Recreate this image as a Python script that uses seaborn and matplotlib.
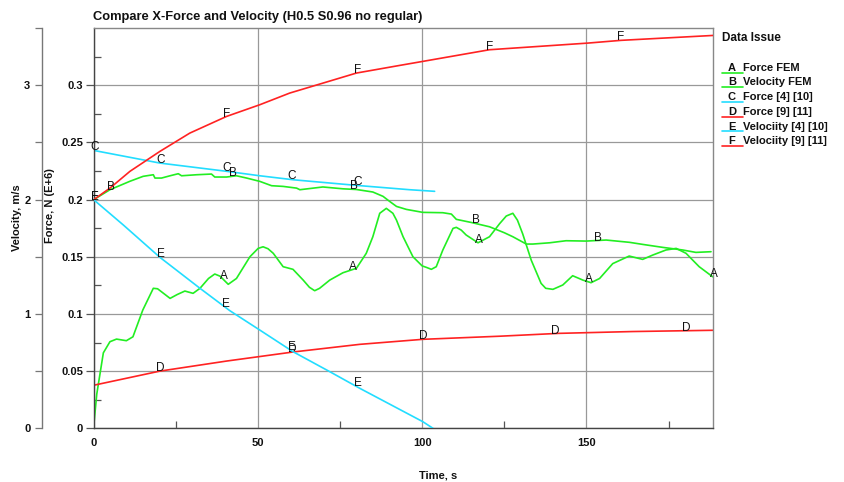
import numpy as np
import pandas as pd
import matplotlib
matplotlib.use("Agg")
import matplotlib.pyplot as plt
from matplotlib.lines import Line2D
from matplotlib.ticker import FixedLocator
import seaborn as sns

# ---- data -------------------------------------------------------------
# Force FEM (force axis, N E+6)
a_time = [0, 1, 3, 5, 7, 10, 12, 15, 18.2, 19.5, 23.3, 25.5, 27.8, 30.3, 32.4,
          35, 36.9, 38.5, 41, 43.5, 47.6, 50.1, 51.6, 53.1, 54.7, 57.7, 60.7,
          63.8, 65.7, 67.3, 68.8, 71.9, 75.9, 80, 83, 85, 87.1, 89.1, 91.1,
          92.2, 94.2, 97.2, 100, 101.3, 102.8, 104.3, 106.3, 109.4, 110.4,
          111.9, 113.4, 117, 120.5, 123.6, 125.6, 127.6, 129, 130.6, 133.2,
          136.2, 137.6, 139.8, 142.8, 145.8, 148.9, 151.4, 154, 158, 163,
          167.1, 170.2, 174.2, 177.3, 180.3, 184.3, 188.4]
a_force = [0.0, 0.030, 0.066, 0.0757, 0.078, 0.0766, 0.080, 0.1034, 0.1224,
           0.122, 0.1136, 0.117, 0.120, 0.118, 0.1224, 0.131, 0.1349, 0.133,
           0.1259, 0.131, 0.150, 0.1573, 0.1587, 0.157, 0.153, 0.1413, 0.139,
           0.1296, 0.1233, 0.1203, 0.1224, 0.1296, 0.136, 0.1399, 0.153,
           0.1675, 0.188, 0.1923, 0.188, 0.182, 0.1675, 0.150, 0.142, 0.1407,
           0.139, 0.1413, 0.1559, 0.1748, 0.1757, 0.1733, 0.169, 0.1622,
           0.1675, 0.179, 0.1856, 0.188, 0.182, 0.170, 0.147, 0.1267, 0.1224,
           0.1215, 0.1253, 0.1334, 0.1296, 0.1273, 0.131, 0.144, 0.1506,
           0.1477, 0.1515, 0.1559, 0.1573, 0.153, 0.1413, 0.1325]

# Velocity FEM (velocity axis, m/s)
b_time = [0, 5, 11.1, 15.1, 18.2, 18.7, 20.7, 23.3, 25.8, 26.8, 31.4, 35.9,
          36.9, 40.5, 43.5, 46.6, 50.6, 54.2, 57.7, 61.8, 62.8, 69.8, 75.9, 80,
          85, 88.1, 90.1, 92.2, 95.2, 100.2, 106.3, 108.9, 110.4, 114.9, 120.5,
          125, 127.6, 131.7, 133.7, 138.8, 143.8, 149.9, 156, 163.1, 167.1,
          173.2, 179.3, 183.3, 187.9]
b_velocity = [1.998, 2.086, 2.16, 2.203, 2.217, 2.188, 2.188, 2.208, 2.226,
              2.208, 2.217, 2.223, 2.197, 2.197, 2.208, 2.188, 2.159, 2.121,
              2.115, 2.10, 2.086, 2.11, 2.094, 2.088, 2.066, 2.028, 1.984, 1.94,
              1.914, 1.888, 1.885, 1.873, 1.827, 1.80, 1.762, 1.71, 1.675,
              1.611, 1.611, 1.622, 1.64, 1.637, 1.646, 1.626, 1.608, 1.582,
              1.559, 1.538, 1.544]

# Force [4] [10]
c_time = [0, 20.2, 40.5, 50.6, 60.8, 80, 96.2, 103.8]
c_force = [0.243, 0.2319, 0.2247, 0.2208, 0.2173, 0.2124, 0.2086, 0.2072]

# Force [9] [11]
d_time = [0, 20.2, 40.5, 60.7, 81, 100.2, 123.5, 141.5, 164, 188.6]
d_force = [0.0376, 0.050, 0.0588, 0.0667, 0.0734, 0.0778, 0.0805, 0.0830,
           0.0846, 0.0857]

# Velociity [4] [10]
e_time = [0, 9.1, 20.2, 32.4, 41.5, 50.6, 60.7, 71.9, 81, 100.2, 103.3]
e_velocity = [2.0, 1.777, 1.495, 1.224, 1.028, 0.859, 0.670, 0.495, 0.350,
              0.058, 0.0]

# Velociity [9] [11]
f_time = [0, 5, 11.1, 20.2, 29.3, 40.5, 50.6, 59.7, 69.8, 80, 93.2, 100.2,
          120.5, 150.4, 160.5, 188.6]
f_velocity = [1.998, 2.10, 2.247, 2.421, 2.581, 2.727, 2.829, 2.931, 3.018,
              3.106, 3.173, 3.208, 3.31, 3.368, 3.392, 3.435]

# where each series letter is stamped along its curve
a_marks = [39.4, 78.5, 117, 150.5, 188.5]
b_marks = [5, 42, 79, 116, 153]
c_marks = [0, 20, 40, 60, 80]
d_marks = [20, 60, 100, 140, 180]
e_marks = [0, 20, 40, 60, 80]
f_marks = [0, 40, 80, 120, 160]

series_letters = ["A", "B", "C", "D", "E", "F"]
series_names = ["Force FEM", "Velocity FEM", "Force [4] [10]", "Force [9] [11]",
                "Velociity [4] [10]", "Velociity [9] [11]"]

force_ticks = [0, 0.05, 0.1, 0.15, 0.2, 0.25, 0.3]
force_tick_labels = ["0", "0.05", "0.1", "0.15", "0.2", "0.25", "0.3"]
velocity_ticks = [0, 1, 2, 3]
time_ticks = [0, 50, 100, 150]

# ---- style ------------------------------------------------------------
sns.set_theme(style="white")
plt.rcParams["font.family"] = ["Liberation Sans", "DejaVu Sans"]

GREEN = "#22ee22"
CYAN = "#22ddff"
RED = "#ff2222"
colors = [GREEN, GREEN, CYAN, RED, CYAN, RED]

W, H = 844, 482
fig = plt.figure(figsize=(W / 100, H / 100), dpi=100)
fig.patch.set_facecolor("white")

left_px, right_px, top_px, bottom_px = 93.5, 713.3, 28.0, 428.3
ax = fig.add_axes([left_px / W, 1 - bottom_px / H,
                   (right_px - left_px) / W, (bottom_px - top_px) / H])
ax.set_facecolor("white")
axv = ax.twinx()

LW = 1.2
line_kw = dict(lw=LW, legend=False, solid_joinstyle="round",
               solid_capstyle="round")
tick_font = dict(fontsize=8, fontweight="bold")

# force-axis curves
sns.lineplot(x=a_time, y=a_force, ax=ax, color=GREEN, **line_kw)
sns.lineplot(x=c_time, y=c_force, ax=ax, color=CYAN, **line_kw)
sns.lineplot(x=d_time, y=d_force, ax=ax, color=RED, **line_kw)
# velocity-axis curves
sns.lineplot(x=b_time, y=b_velocity, ax=axv, color=GREEN, **line_kw)
sns.lineplot(x=e_time, y=e_velocity, ax=axv, color=CYAN, **line_kw)
sns.lineplot(x=f_time, y=f_velocity, ax=axv, color=RED, **line_kw)

t_max = 188.6
ax.set_xlim(0, t_max)
ax.set_ylim(0, 0.35)
axv.set_ylim(0, 3.5)


def stamp(target, xs, ys, marks, letter):
    for m in marks:
        yv = np.interp(m, xs, ys)
        target.text(m + 0.4, yv, letter, ha="center", va="baseline",
                    fontsize=8.5, color="#111111", clip_on=False, zorder=5)


stamp(ax, a_time, a_force, a_marks, "A")
stamp(axv, b_time, b_velocity, b_marks, "B")
stamp(ax, c_time, c_force, c_marks, "C")
stamp(ax, d_time, d_force, d_marks, "D")
stamp(axv, e_time, e_velocity, e_marks, "E")
stamp(axv, f_time, f_velocity, f_marks, "F")

# grid
ax.set_xticks(time_ticks)
ax.set_yticks(force_ticks)
ax.grid(True, which="major", color="#999999", lw=0.9)
ax.set_axisbelow(True)

# force axis ticks
ax.set_yticklabels(force_tick_labels, **tick_font)
ax.yaxis.set_minor_locator(FixedLocator([0.025, 0.075, 0.125, 0.175, 0.225,
                                         0.275, 0.325]))
ax.tick_params(axis="y", which="major", direction="out", length=6, width=0.9,
               color="#555555", pad=1.5, labelcolor="#111111")
ax.tick_params(axis="y", which="minor", direction="in", length=5, width=0.9,
               color="#555555", left=True)

# time axis ticks
ax.set_xticklabels([str(t) for t in time_ticks], **tick_font)
ax.xaxis.set_minor_locator(FixedLocator([25, 75, 125, 175]))
ax.tick_params(axis="x", which="major", direction="in", length=0, pad=7,
               labelcolor="#111111")
ax.tick_params(axis="x", which="minor", direction="in", length=5, width=0.9,
               color="#555555", bottom=True)

for side in ["left", "bottom"]:
    ax.spines[side].set_color("#444444")
    ax.spines[side].set_linewidth(1.0)
for side in ["top", "right"]:
    ax.spines[side].set_color("#888888")
    ax.spines[side].set_linewidth(1.0)

# velocity axis on the far left
vel_pos = (41.5 - left_px) / (right_px - left_px)
axv.spines["left"].set_position(("axes", vel_pos))
axv.spines["left"].set_visible(True)
axv.spines["left"].set_color("#777777")
axv.spines["left"].set_linewidth(1.0)
for side in ["right", "top", "bottom"]:
    axv.spines[side].set_visible(False)
axv.yaxis.set_ticks_position("left")
axv.yaxis.set_label_position("left")
axv.set_yticks(velocity_ticks)
axv.set_yticklabels([str(v) for v in velocity_ticks], **tick_font)
axv.yaxis.set_minor_locator(FixedLocator([0.5, 1.5, 2.5, 3.5]))
axv.tick_params(axis="y", which="both", direction="out", length=5, width=0.9,
                color="#777777", pad=3, labelcolor="#111111")
axv.grid(False)
axv.set_xlim(0, t_max)
ax.set_xlabel("")
ax.set_ylabel("")
axv.set_ylabel("")

# axis titles
fig.text(17 / W, 1 - 218 / H, "Velocity, m/s", rotation=90, ha="center",
         va="center", fontsize=8, fontweight="bold", color="#111111")
fig.text(50 / W, 1 - 206 / H, "Force, N (E+6)", rotation=90, ha="center",
         va="center", fontsize=8, fontweight="bold", color="#111111")
fig.text(438 / W, 1 - 476 / H, "Time, s", ha="center", va="center",
         fontsize=8, fontweight="bold", color="#111111")
fig.text(93 / W, 1 - 17 / H,
         "Compare X-Force and Velocity (H0.5 S0.96 no regular)",
         ha="left", va="center", fontsize=9.3, fontweight="bold",
         color="#111111")

# key on the right
fig.text(722 / W, 1 - 38 / H, "Data Issue", ha="left", va="center",
         fontsize=8.5, fontweight="bold", color="#111111")
row_y = [68, 82, 97, 112, 127, 141]
for letter, name, col, yy in zip(series_letters, series_names, colors, row_y):
    fig.add_artist(Line2D([722 / W, 743 / W], [1 - (yy + 4.5) / H] * 2,
                          color=col, lw=1.2, transform=fig.transFigure))
    fig.text(732 / W, 1 - yy / H, letter, ha="center", va="center",
             fontsize=8, fontweight="bold", color="#111111")
    fig.text(743 / W, 1 - yy / H, name, ha="left", va="center",
             fontsize=8, fontweight="bold", color="#111111")

fig.savefig("out.png", dpi=100)
